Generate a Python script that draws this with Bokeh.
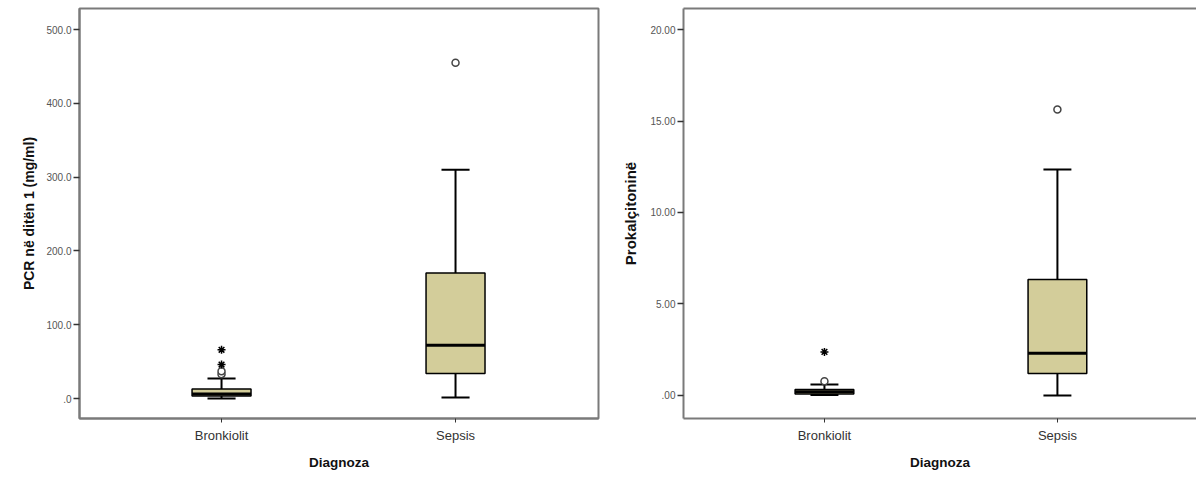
from bokeh.plotting import figure
from bokeh.layouts import row
from bokeh.models import FixedTicker, LinearAxis, Range1d
from bokeh.embed import file_html
from bokeh.resources import INLINE

# ---------------- data ----------------
categories = ["Bronkiolit", "Sepsis"]
cat_pos = [1, 2]

# Panel 1: PCR në ditën 1 (mg/ml)
pcr_lower = [0.0, 1.5]
pcr_q1 = [3.5, 34.0]
pcr_median = [6.0, 72.0]
pcr_q3 = [13.0, 170.0]
pcr_upper = [27.0, 310.0]
pcr_out_x = [1, 1, 2]
pcr_out_y = [33.0, 37.0, 455.0]
pcr_ext_x = [1, 1]
pcr_ext_y = [46.0, 66.0]
pcr_ticks = [0, 100, 200, 300, 400, 500]
pcr_tick_labels = [".0", "100.0", "200.0", "300.0", "400.0", "500.0"]

# Panel 2: Prokalçitoninë
pct_lower = [0.02, 0.0]
pct_q1 = [0.08, 1.2]
pct_median = [0.2, 2.3]
pct_q3 = [0.33, 6.34]
pct_upper = [0.6, 12.35]
pct_out_x = [1, 2]
pct_out_y = [0.77, 15.63]
pct_ext_x = [1]
pct_ext_y = [2.38]
pct_ticks = [0, 5, 10, 15, 20]
pct_tick_labels = [".00", "5.00", "10.00", "15.00", "20.00"]

BOX_FILL = "#d3cd9a"
FRAME = "#7a7a7a"
FONT = "Liberation Sans"


def make_panel(width, min_left, min_bottom, x_range, y_range, lower, q1, med, q3, upper,
               out_x, out_y, ext_x, ext_y, ticks, tick_labels, ylabel, ylabel_size,
               ylabel_standoff, full_outline=True):
    p = figure(width=width, height=481, output_backend="svg", toolbar_location=None,
               x_range=Range1d(*x_range), y_range=Range1d(*y_range),
               min_border_left=min_left, min_border_right=2 if full_outline else 0,
               min_border_top=8, min_border_bottom=min_bottom)
    p.grid.visible = False
    p.background_fill_color = "white"
    p.border_fill_color = "white"
    xa = p.below[0]
    ya = p.left[0]
    if full_outline:
        p.outline_line_color = FRAME
        p.outline_line_width = 2
    else:
        p.outline_line_color = None
        top = LinearAxis(ticker=FixedTicker(ticks=[]))
        top.axis_line_color = FRAME
        top.axis_line_width = 2
        top.major_tick_line_color = None
        top.minor_tick_line_color = None
        top.major_label_text_font_size = "0px"
        top.major_label_standoff = 0
        top.major_tick_out = 0
        top.major_tick_in = 0
        p.add_layout(top, "above")

    hw = 0.126
    cw = 0.06
    # whiskers
    p.segment(x0=cat_pos, y0=q3, x1=cat_pos, y1=upper, line_color="black", line_width=2)
    p.segment(x0=cat_pos, y0=q1, x1=cat_pos, y1=lower, line_color="black", line_width=2)
    p.segment(x0=[c - cw for c in cat_pos], y0=upper, x1=[c + cw for c in cat_pos], y1=upper,
              line_color="black", line_width=2)
    p.segment(x0=[c - cw for c in cat_pos], y0=lower, x1=[c + cw for c in cat_pos], y1=lower,
              line_color="black", line_width=2)
    # boxes
    p.vbar(x=cat_pos, width=2 * hw, top=q3, bottom=q1, fill_color=BOX_FILL,
           line_color="black", line_width=1.5)
    # medians
    p.segment(x0=[c - hw for c in cat_pos], y0=med, x1=[c + hw for c in cat_pos], y1=med,
              line_color="black", line_width=3)
    # outliers
    p.scatter(x=out_x, y=out_y, marker="circle", size=7, fill_color="white",
              line_color="#444444", line_width=1.5)
    p.scatter(x=ext_x, y=ext_y, marker="asterisk", size=8, line_color="black", line_width=1.5)

    # axes
    xa.ticker = FixedTicker(ticks=cat_pos)
    xa.major_label_overrides = {c: n for c, n in zip(cat_pos, categories)}
    xa.axis_label = "Diagnoza"
    xa.axis_label_text_font = FONT
    xa.axis_label_text_font_style = "bold"
    xa.axis_label_text_font_size = "13.5px"
    xa.axis_label_text_color = "#111111"
    xa.axis_label_standoff = 9
    xa.major_label_text_font = FONT
    xa.major_label_text_font_size = "13px"
    xa.major_label_text_color = "#333333"
    xa.major_label_standoff = 5
    xa.major_tick_in = 0
    xa.major_tick_out = 4
    xa.major_tick_line_color = "#333333"
    xa.minor_tick_line_color = None
    xa.axis_line_color = FRAME
    xa.axis_line_width = 2

    ya.ticker = FixedTicker(ticks=ticks)
    ya.major_label_overrides = {t: l for t, l in zip(ticks, tick_labels)}
    ya.axis_label = ylabel
    ya.axis_label_text_font = FONT
    ya.axis_label_text_font_style = "bold"
    ya.axis_label_text_font_size = ylabel_size
    ya.axis_label_text_color = "#111111"
    ya.axis_label_standoff = ylabel_standoff
    ya.major_label_text_font = FONT
    ya.major_label_text_font_size = "10px"
    ya.major_label_text_color = "#555555"
    ya.major_label_standoff = 2
    ya.major_tick_in = 0
    ya.major_tick_out = 6
    ya.major_tick_line_color = "#333333"
    ya.major_tick_line_width = 1.5
    ya.minor_tick_line_color = None
    ya.axis_line_color = FRAME
    ya.axis_line_width = 2
    return p


left = make_panel(600, 79, 63, (0.393, 2.611), (-27.1, 528.5),
                  pcr_lower, pcr_q1, pcr_median, pcr_q3, pcr_upper,
                  pcr_out_x, pcr_out_y, pcr_ext_x, pcr_ext_y,
                  pcr_ticks, pcr_tick_labels, "PCR në ditën 1 (mg/ml)", "14px", 6, True)

right = make_panel(596, 83, 63, (0.395, 2.597), (-1.26, 21.15),
                   pct_lower, pct_q1, pct_median, pct_q3, pct_upper,
                   pct_out_x, pct_out_y, pct_ext_x, pct_ext_y,
                   pct_ticks, pct_tick_labels, "Prokalçitoninë", "15px", 8, False)

layout = row(left, right)
open("out.html", "w").write(file_html(layout, INLINE))
